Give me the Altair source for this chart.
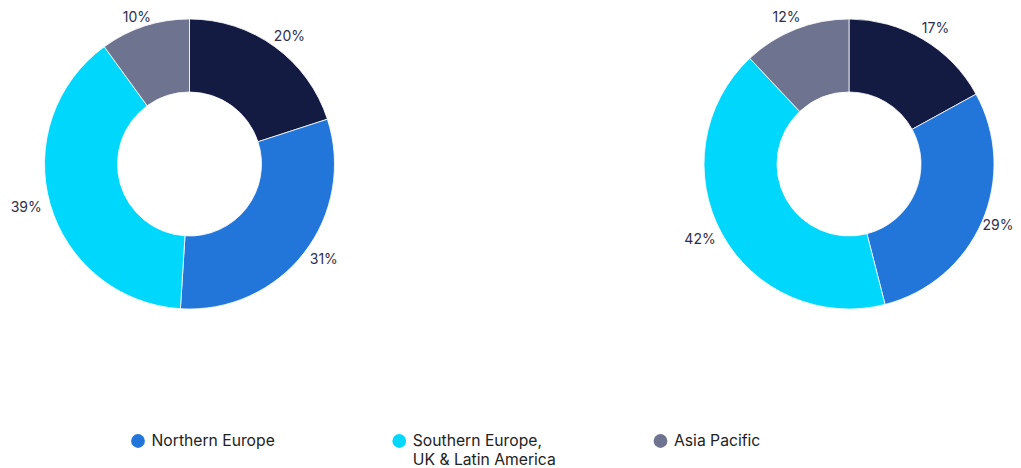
import math
import altair as alt
import pandas as pd

# ---- data ----
charts = ["Left", "Right"]
segments = ["Other", "Northern Europe", "Southern Europe,\nUK & Latin America", "Asia Pacific"]
left_values = [20, 31, 39, 10]
right_values = [17, 29, 42, 12]
colors = ["#131b43", "#2276da", "#00d7fd", "#6e7490"]
legend_items = ["Northern Europe", "Southern Europe,\nUK & Latin America", "Asia Pacific"]
legend_colors = ["#2276da", "#00d7fd", "#6e7490"]

rows = []
for chart, vals in zip(charts, [left_values, right_values]):
    for i, (seg, v) in enumerate(zip(segments, vals)):
        rows.append({"chart": chart, "segment": seg, "value": v, "order": i})
df = pd.DataFrame(rows)
leg_df = pd.DataFrame({"item": legend_items, "order": range(len(legend_items))})

W, H = 1005, 460
FONT = "Inter"
CY = 156

x_scale = alt.Scale(type="point", domain=charts, range=[181.5, 841], padding=0)
theta_scale = alt.Scale(domain=[0, 100], range=[0, 2 * math.pi])
color_scale = alt.Scale(domain=segments, range=colors)

base = alt.Chart(df).transform_stack(
    stack="value", as_=["v0", "v1"], groupby=["chart"], sort=[alt.SortField("order")]
)

arcs = base.mark_arc(innerRadius=72, outerRadius=145, stroke="white", strokeWidth=0.8).encode(
    x=alt.X("chart:N", scale=x_scale, axis=None),
    y=alt.value(CY),
    theta=alt.Theta("v0:Q", scale=theta_scale),
    theta2="v1:Q",
    color=alt.Color("segment:N", scale=color_scale, legend=None),
)

# label centres lie on an ellipse around each donut (wider horizontally for text width)
labels = base.transform_calculate(
    ang="PI * (datum.v0 + datum.v1) / 100",
    lab="datum.value + '%'",
).transform_calculate(
    tx="min(170 * sin(datum.ang), 149)",
    ty="min(157 * cos(datum.ang), 146)",
).transform_calculate(
    lr="sqrt(datum.tx * datum.tx + datum.ty * datum.ty)",
    la="atan2(datum.tx, datum.ty)",
).mark_text(font=FONT, fontSize=14, color="#2b2f4e", align="center", baseline="middle").encode(
    x=alt.X("chart:N", scale=x_scale, axis=None),
    y=alt.value(CY),
    theta=alt.Theta("la:Q", scale=None),
    radius=alt.Radius("lr:Q", scale=None),
    text="lab:N",
)

leg_x = alt.Scale(type="point", domain=legend_items, range=[130, 652.5], padding=0)
leg_color = alt.Scale(domain=legend_items, range=legend_colors)

leg_pts = alt.Chart(leg_df).mark_point(filled=True, shape="circle", size=190, opacity=1).encode(
    x=alt.X("item:N", scale=leg_x, axis=None),
    y=alt.value(433),
    color=alt.Color("item:N", scale=leg_color, legend=None),
)
leg_txt = alt.Chart(leg_df).mark_text(
    font=FONT, fontSize=15.7, color="#222222", align="left", baseline="middle",
    dx=13.5, lineBreak="\n", lineHeight=19,
).encode(
    x=alt.X("item:N", scale=leg_x, axis=None),
    y=alt.value(433),
    text="item:N",
)

chart = alt.layer(arcs, labels, leg_pts, leg_txt).resolve_scale(
    x="independent", color="independent"
).properties(
    width=W, height=H, autosize=alt.AutoSizeParams(type="none"), padding=0
).configure_view(stroke=None)

chart.save("out.html", embed_options={"renderer": "svg", "actions": False})
